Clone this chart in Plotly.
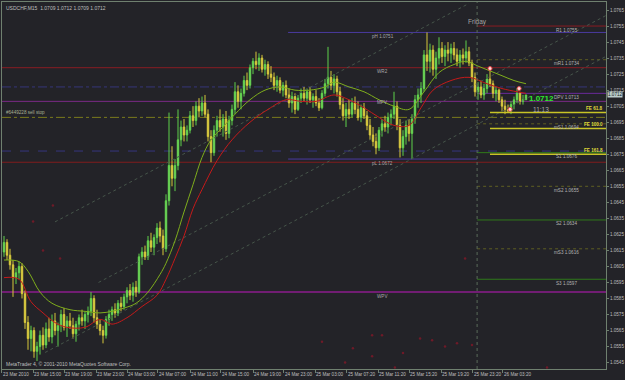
import plotly.graph_objects as go

# ---------------- data ----------------
title_text = "USDCHF,M15  1.0709 1.0712 1.0709 1.0712"
copyright_text = "MetaTrader 4, \u00a9 2001-2010 MetaQuotes Software Corp."

bar_open = [1.0614,1.0620,1.0612,1.0606,1.0598,1.0601,1.0605,1.0588,1.0570,1.0560,
1.0565,1.0552,1.0555,1.0562,1.0556,1.0566,1.0561,1.0571,1.0565,1.0568,
1.0575,1.0567,1.0571,1.0568,1.0563,1.0569,1.0573,1.0571,1.0575,1.0577,
1.0585,1.0573,1.0569,1.0565,1.0562,1.0572,1.0575,1.0578,1.0576,1.0582,
1.0580,1.0586,1.0590,1.0587,1.0592,1.0589,1.0611,1.0614,1.0611,1.0621,
1.0617,1.0623,1.0629,1.0624,1.0616,1.0646,1.0668,1.0660,1.0668,1.0684,
1.0692,1.0687,1.0690,1.0699,1.0696,1.0705,1.0702,1.0707,1.0700,1.0686,
1.0676,1.0690,1.0696,1.0692,1.0697,1.0688,1.0696,1.0703,1.0714,1.0708,
1.0713,1.0721,1.0718,1.0729,1.0733,1.0731,1.0735,1.0728,1.0731,1.0725,
1.0723,1.0718,1.0721,1.0715,1.0718,1.0712,1.0707,1.0711,1.0703,1.0710,
1.0713,1.0710,1.0714,1.0709,1.0711,1.0707,1.0704,1.0713,1.0719,1.0723,
1.0718,1.0722,1.0714,1.0706,1.0699,1.0703,1.0700,1.0707,1.0703,1.0698,
1.0704,1.0699,1.0693,1.0687,1.0683,1.0679,1.0690,1.0694,1.0692,1.0698,
1.0700,1.0705,1.0693,1.0679,1.0686,1.0693,1.0688,1.0697,1.0709,1.0712,
1.0716,1.0737,1.0733,1.0740,1.0728,1.0735,1.0741,1.0736,1.0740,1.0738,
1.0741,1.0737,1.0733,1.0737,1.0735,1.0739,1.0732,1.0723,1.0714,1.0717,
1.0712,1.0716,1.0722,1.0719,1.0713,1.0715,1.0709,1.0705,1.0703,1.0702,
1.0706,1.0709,1.0713,1.0708,1.0709]

bar_high = [1.0624,1.0622,1.0616,1.0609,1.0604,1.0608,1.0607,1.0590,1.0574,1.0568,
1.0567,1.0558,1.0565,1.0567,1.0570,1.0573,1.0575,1.0576,1.0570,1.0578,
1.0579,1.0574,1.0576,1.0573,1.0571,1.0575,1.0578,1.0577,1.0580,1.0589,
1.0587,1.0578,1.0572,1.0568,1.0574,1.0578,1.0580,1.0582,1.0584,1.0586,
1.0588,1.0592,1.0594,1.0595,1.0596,1.0613,1.0617,1.0618,1.0624,1.0626,
1.0625,1.0632,1.0633,1.0628,1.0650,1.0701,1.0680,1.0672,1.0703,1.0696,
1.0697,1.0693,1.0702,1.0705,1.0708,1.0710,1.0711,1.0712,1.0703,1.0690,
1.0693,1.0699,1.0703,1.0700,1.0702,1.0699,1.0706,1.0720,1.0718,1.0716,
1.0724,1.0726,1.0731,1.0735,1.0739,1.0738,1.0737,1.0734,1.0733,1.0730,
1.0726,1.0724,1.0723,1.0720,1.0721,1.0716,1.0714,1.0713,1.0712,1.0716,
1.0717,1.0716,1.0717,1.0713,1.0715,1.0710,1.0715,1.0722,1.0742,1.0727,
1.0725,1.0724,1.0717,1.0710,1.0707,1.0709,1.0710,1.0711,1.0708,1.0706,
1.0707,1.0702,1.0697,1.0692,1.0688,1.0692,1.0697,1.0699,1.0701,1.0703,
1.0714,1.0708,1.0697,1.0690,1.0696,1.0697,1.0700,1.0712,1.0716,1.0720,
1.0740,1.0751,1.0744,1.0743,1.0739,1.0748,1.0745,1.0743,1.0745,1.0744,
1.0745,1.0741,1.0740,1.0741,1.0746,1.0742,1.0734,1.0726,1.0720,1.0721,
1.0719,1.0725,1.0728,1.0721,1.0717,1.0716,1.0711,1.0709,1.0706,1.0708,
1.0711,1.0716,1.0714,1.0712,1.0712]

bar_low = [1.0611,1.0609,1.0603,1.0586,1.0594,1.0597,1.0585,1.0566,1.0553,1.0552,
1.0548,1.0546,1.0550,1.0553,1.0554,1.0558,1.0557,1.0562,1.0555,1.0564,
1.0565,1.0561,1.0566,1.0560,1.0558,1.0565,1.0568,1.0566,1.0570,1.0574,
1.0570,1.0566,1.0562,1.0557,1.0560,1.0568,1.0571,1.0573,1.0574,1.0577,
1.0578,1.0582,1.0584,1.0583,1.0586,1.0588,1.0606,1.0609,1.0609,1.0614,
1.0612,1.0619,1.0620,1.0612,1.0614,1.0643,1.0655,1.0652,1.0665,1.0680,
1.0683,1.0683,1.0688,1.0692,1.0693,1.0698,1.0699,1.0698,1.0683,1.0670,
1.0674,1.0686,1.0689,1.0686,1.0684,1.0685,1.0693,1.0700,1.0704,1.0703,
1.0711,1.0715,1.0716,1.0725,1.0728,1.0727,1.0726,1.0724,1.0722,1.0720,
1.0715,1.0714,1.0713,1.0711,1.0710,1.0704,1.0701,1.0700,1.0702,1.0707,
1.0708,1.0706,1.0707,1.0704,1.0705,1.0702,1.0703,1.0711,1.0716,1.0715,
1.0713,1.0711,1.0703,1.0696,1.0692,1.0697,1.0698,1.0700,1.0696,1.0695,
1.0697,1.0690,1.0684,1.0680,1.0675,1.0677,1.0686,1.0689,1.0688,1.0693,
1.0697,1.0690,1.0673,1.0674,1.0681,1.0683,1.0672,1.0694,1.0704,1.0707,
1.0714,1.0727,1.0726,1.0724,1.0722,1.0731,1.0732,1.0730,1.0733,1.0732,
1.0734,1.0730,1.0729,1.0731,1.0732,1.0730,1.0720,1.0711,1.0709,1.0710,
1.0709,1.0713,1.0717,1.0710,1.0708,1.0707,1.0702,1.0700,1.0701,1.0700,
1.0703,1.0707,1.0706,1.0706,1.0709]

bar_close = [1.0620,1.0612,1.0606,1.0598,1.0601,1.0605,1.0588,1.0570,1.0560,1.0565,
1.0552,1.0555,1.0562,1.0556,1.0566,1.0561,1.0571,1.0565,1.0568,1.0575,
1.0567,1.0571,1.0568,1.0563,1.0569,1.0573,1.0571,1.0575,1.0577,1.0585,
1.0573,1.0569,1.0565,1.0562,1.0572,1.0575,1.0578,1.0576,1.0582,1.0580,
1.0586,1.0590,1.0587,1.0592,1.0589,1.0611,1.0614,1.0611,1.0621,1.0617,
1.0623,1.0629,1.0624,1.0616,1.0646,1.0668,1.0660,1.0668,1.0684,1.0692,
1.0687,1.0690,1.0699,1.0696,1.0705,1.0702,1.0707,1.0700,1.0686,1.0676,
1.0690,1.0696,1.0692,1.0697,1.0688,1.0696,1.0703,1.0714,1.0708,1.0713,
1.0721,1.0718,1.0729,1.0733,1.0731,1.0735,1.0728,1.0731,1.0725,1.0723,
1.0718,1.0721,1.0715,1.0718,1.0712,1.0707,1.0711,1.0703,1.0710,1.0713,
1.0710,1.0714,1.0709,1.0711,1.0707,1.0704,1.0713,1.0719,1.0723,1.0718,
1.0722,1.0714,1.0706,1.0699,1.0703,1.0700,1.0707,1.0703,1.0698,1.0704,
1.0699,1.0693,1.0687,1.0683,1.0679,1.0690,1.0694,1.0692,1.0698,1.0700,
1.0705,1.0693,1.0679,1.0686,1.0693,1.0688,1.0697,1.0709,1.0712,1.0716,
1.0737,1.0733,1.0740,1.0728,1.0735,1.0741,1.0736,1.0740,1.0738,1.0741,
1.0737,1.0733,1.0737,1.0735,1.0739,1.0732,1.0723,1.0714,1.0717,1.0712,
1.0716,1.0722,1.0719,1.0713,1.0715,1.0709,1.0705,1.0703,1.0702,1.0706,
1.0709,1.0713,1.0708,1.0709,1.0712]

bar_index = list(range(len(bar_close)))

green_ma_idx = [0,5,8,12,16,22,27,32,36,40,44,48,52,54,57,60,63,66,69,73,
                77,82,87,92,97,102,107,110,115,120,125,130,135,140,145,150,154,158,162,166,170,174]
green_ma_val = [1.0609,1.0608,1.0602,1.0589,1.0582,1.0578,1.0577,1.0576,1.0577,1.0579,
                1.0582,1.0589,1.0600,1.0607,1.0621,1.0639,1.0656,1.0673,1.0684,1.0692,
                1.0700,1.0709,1.0715,1.0717,1.0715,1.0715,1.0717,1.0720,1.0717,1.0714,
                1.0709,1.0705,1.0703,1.0714,1.0726,1.0731,1.0733,1.0730,1.0727,1.0724,
                1.0721,1.0719]

red_ma_idx = [0,5,9,13,17,21,27,32,36,41,46,51,54,57,60,63,66,71,76,82,
              88,94,99,104,110,115,120,125,130,135,139,143,149,155,161,166,171,174]
red_ma_val = [1.0598,1.0597,1.0583,1.0576,1.0570,1.0567,1.0567,1.0572,1.0569,1.0573,
              1.0580,1.0587,1.0597,1.0610,1.0624,1.0641,1.0653,1.0671,1.0684,1.0695,
              1.0703,1.0709,1.0708,1.0708,1.0712,1.0709,1.0704,1.0698,1.0693,1.0693,
              1.0704,1.0715,1.0721,1.0723,1.0719,1.0716,1.0714,1.0713]

# full-width horizontal levels
full_level_price = [1.0729, 1.0717, 1.0708, 1.0698, 1.0677, 1.0670, 1.0589]
full_level_text = ["WR2", "", "MPV", "#6449228 sell stop", "", "", "WPV"]

# daily pivot levels (from the day separator to the right edge)
pivot_price = [1.0755, 1.0734, 1.0713, 1.0694, 1.0676, 1.0655, 1.0634, 1.0616, 1.0597]
pivot_text = ["R1 1.0755", "mR1 1.0734", "DPV 1.0713", "mS1 1.0694", "S1 1.0676",
              "mS2 1.0655", "S2 1.0634", "mS3 1.0616", "S3 1.0597"]

prev_day_price = [1.0751, 1.0672]
prev_day_text = ["pH 1.0751", "pL 1.0672"]

fe_price = [1.0701, 1.0691, 1.0675]
fe_text = ["FE 61.8", "FE 100.0", "FE 161.8"]

channel_x0 = [17.0, 31.5, 13.7]
channel_p0 = [1.06328, 1.05950, 1.05513]
channel_x1 = [155.0, 200.7, 200.7]
channel_p1 = [1.07691, 1.07616, 1.07361]

dot_pos = [9.7, 13, 16.3, 18.7, 106, 113.7, 116.3, 122.7, 122.7, 126, 130.3, 133,
           138.7, 142.7, 147, 151, 153.7, 156, 181]
dot_price = [1.0633, 1.0615, 1.0643, 1.0610, 1.0558, 1.0545, 1.0554, 1.0562, 1.0549,
             1.0562, 1.0542, 1.0551, 1.0560, 1.0559, 1.0555, 1.0557, 1.0610, 1.0556, 1.0542]

fractal_pos = [162, 168.7, 171.7]
fractal_price = [1.07285, 1.0703, 1.0716]

time_tick_pos = [-0.67, 9.67, 20.0, 30.67, 41.0, 51.33, 62.0, 72.33, 83.0, 93.33,
                 103.67, 114.33, 124.67, 135.0, 145.67, 156.33, 166.33]
time_tick_text = ["23 Mar 2010", "23 Mar 15:00", "23 Mar 19:00", "23 Mar 23:00",
                  "24 Mar 03:00", "24 Mar 07:00", "24 Mar 11:00", "24 Mar 15:00",
                  "24 Mar 19:00", "24 Mar 23:00", "25 Mar 03:00", "25 Mar 07:20",
                  "25 Mar 11:20", "25 Mar 15:20", "25 Mar 19:20", "25 Mar 23:20",
                  "26 Mar 03:20"]

last_price = 1.0712
bar_timer = "11:13"
day_name = "Friday"
day_separator_pos = 157.7
prev_day_start = 94.7
fe_start = 162.0

# ---------------- styles ----------------
BG = "#232328"
FONT = "Liberation Sans, Arial, sans-serif"
TXT = "#bfbfbf"
AXC = "#6f806f"
SMALL = 4.6
X_RANGE = [-0.667, 200.667]
Y_RANGE = [1.05410, 1.07700]

full_level_style = [
    dict(color="#8a1c22", width=1),
    dict(color="#36367a", width=1, dash="dashdot"),
    dict(color="#7a2a86", width=1),
    dict(color="#7a7a1c", width=1, dash="dashdot"),
    dict(color="#36367e", width=1, dash="dash"),
    dict(color="#801c1c", width=1),
    dict(color="#8c1c8c", width=1.6),
]
pivot_style = [
    dict(color="#8a1c22", width=1),
    dict(color="#5e5e22", width=1, dash="dot"),
    dict(color="#6a2a9a", width=1),
    dict(color="#5e5e22", width=1, dash="dot"),
    dict(color="#2f7a1a", width=1),
    dict(color="#5e5e22", width=1, dash="dot"),
    dict(color="#2f7a1a", width=1),
    dict(color="#5e5e22", width=1, dash="dot"),
    dict(color="#2f7a1a", width=1),
]

fig = go.Figure()

# channel lines
for x0, p0, x1, p1 in zip(channel_x0, channel_p0, channel_x1, channel_p1):
    fig.add_trace(go.Scatter(x=[x0, x1], y=[p0, p1], mode="lines",
                             line=dict(color="#46554a", width=1, dash="dot"),
                             hoverinfo="skip", showlegend=False))

fig.add_trace(go.Scatter(x=dot_pos, y=dot_price, mode="markers",
                         marker=dict(color="#6e1a28", size=2.5),
                         hoverinfo="skip", showlegend=False))

fig.add_trace(go.Candlestick(
    x=bar_index, open=bar_open, high=bar_high, low=bar_low, close=bar_close,
    increasing=dict(line=dict(color="#5fd24a", width=1), fillcolor="#9cf08a"),
    decreasing=dict(line=dict(color="#d8c83a", width=1), fillcolor="#f2e45e"),
    whiskerwidth=0, showlegend=False, hoverinfo="skip"))

fig.add_trace(go.Scatter(x=green_ma_idx, y=green_ma_val, mode="lines",
                         line=dict(color="#7fae1c", width=1, shape="spline"),
                         hoverinfo="skip", showlegend=False))
fig.add_trace(go.Scatter(x=red_ma_idx, y=red_ma_val, mode="lines",
                         line=dict(color="#c41a1a", width=1, shape="spline"),
                         hoverinfo="skip", showlegend=False))

fig.add_trace(go.Scatter(x=fractal_pos, y=fractal_price, mode="markers",
                         marker=dict(color="#ffd6d6", size=4, line=dict(color="#e04848", width=1)),
                         hoverinfo="skip", showlegend=False))

shapes = []
annotations = []

for p, t, st in zip(full_level_price, full_level_text, full_level_style):
    shapes.append(dict(type="line", xref="paper", x0=0, x1=1, yref="y", y0=p, y1=p, line=st, layer="below"))
    if t.startswith("#"):
        annotations.append(dict(x=0, xref="paper", xanchor="left", xshift=2, y=p, yref="y",
                                yanchor="bottom", yshift=0, text=t, showarrow=False,
                                font=dict(size=SMALL, color="#a8b090", family=FONT)))
    elif t:
        annotations.append(dict(x=126.3, xref="x", xanchor="center", y=p, yref="y",
                                yshift=-4 if t != "MPV" else -1, text=t, showarrow=False,
                                font=dict(size=SMALL, color="#a8a8a8", family=FONT)))

for p, t, st in zip(pivot_price, pivot_text, pivot_style):
    shapes.append(dict(type="line", xref="x", x0=day_separator_pos, x1=X_RANGE[1], yref="y",
                       y0=p, y1=p, line=st, layer="below"))
    annotations.append(dict(x=187.5, xref="x", xanchor="center", y=p, yref="y", yshift=-4,
                            text=t, showarrow=False, font=dict(size=SMALL, color="#b4b4b4", family=FONT)))

for i, (p, t) in enumerate(zip(prev_day_price, prev_day_text)):
    x1 = X_RANGE[1] if i == 0 else day_separator_pos
    shapes.append(dict(type="line", xref="x", x0=prev_day_start, x1=x1, yref="y", y0=p, y1=p,
                       line=dict(color="#4a3aa0", width=1), layer="below"))
    annotations.append(dict(x=126.3, xref="x", xanchor="center", y=p, yref="y", yshift=-4,
                            text=t, showarrow=False, font=dict(size=SMALL, color="#a8a8a8", family=FONT)))

for p, t in zip(fe_price, fe_text):
    shapes.append(dict(type="line", xref="x", x0=fe_start, x1=X_RANGE[1], yref="y", y0=p, y1=p,
                       line=dict(color="#c8c426", width=1.5)))
    annotations.append(dict(x=1, xref="paper", xanchor="right", xshift=-1, y=p, yref="y", yshift=4,
                            text="<b>" + t + "</b>", showarrow=False,
                            font=dict(size=SMALL, color="#e2de3a", family=FONT)))

shapes.append(dict(type="line", xref="x", x0=day_separator_pos, x1=day_separator_pos,
                   yref="paper", y0=0, y1=1, line=dict(color="#5a6a5a", width=1, dash="dot")))

annotations += [
    dict(x=0, xref="paper", xanchor="left", xshift=2, y=1, yref="paper", yanchor="top", yshift=-1,
         text=title_text, showarrow=False, font=dict(size=5, color=TXT, family=FONT)),
    dict(x=0, xref="paper", xanchor="left", xshift=2, y=0, yref="paper", yanchor="bottom", yshift=0,
         text=copyright_text, showarrow=False, font=dict(size=5, color=TXT, family=FONT)),
    dict(x=day_separator_pos, xref="x", xanchor="center", y=1.07575, yref="y",
         text=day_name, showarrow=False, font=dict(size=6.5, color="#a4a4a4", family=FONT)),
    dict(x=174.3, xref="x", xanchor="left", y=1.07095, yref="y",
         text="<b>%.4f</b>" % last_price, showarrow=False, font=dict(size=8, color="#2ee82e", family=FONT)),
    dict(x=175.6, xref="x", xanchor="left", y=1.0703, yref="y",
         text=bar_timer, showarrow=False, font=dict(size=6.5, color="#a8a8a8", family=FONT)),
    dict(x=1, xref="paper", xanchor="left", xshift=1, y=last_price, yref="y",
         text="%.4f" % last_price, showarrow=False, bgcolor="#bccccc",
         font=dict(size=SMALL, color="#102020", family=FONT), borderpad=0),
]

fig.update_layout(
    width=625, height=380,
    margin=dict(l=2, r=19, t=2, b=11, autoexpand=False),
    paper_bgcolor=BG, plot_bgcolor=BG,
    shapes=shapes, annotations=annotations,
    showlegend=False,
    xaxis=dict(range=X_RANGE, rangeslider=dict(visible=False), showgrid=False, zeroline=False,
               showline=True, mirror=True, linecolor=AXC, linewidth=1,
               tickmode="array", tickvals=time_tick_pos, ticktext=time_tick_text,
               ticks="outside", ticklen=3, tickcolor=AXC, ticklabelposition="outside right",
               tickangle=0, automargin=False,
               tickfont=dict(size=SMALL, color=TXT, family=FONT)),
    yaxis=dict(range=Y_RANGE, side="right", showgrid=False, zeroline=False,
               showline=True, mirror=True, linecolor=AXC, linewidth=1,
               tick0=1.0545, dtick=0.001, tickformat=".4f", automargin=False,
               ticks="outside", ticklen=2, tickcolor=AXC,
               tickfont=dict(size=SMALL, color=TXT, family=FONT)),
)

fig.write_html("out.html")
